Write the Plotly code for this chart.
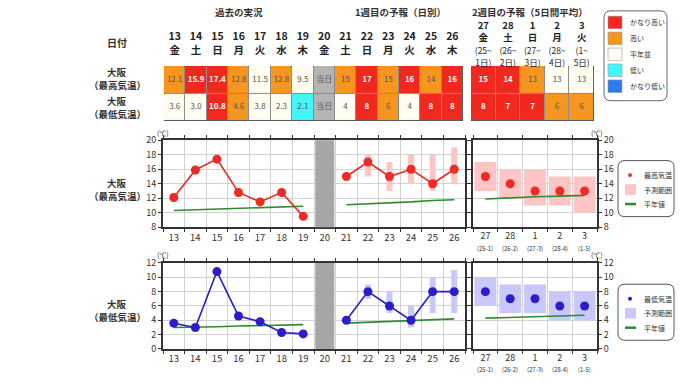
import plotly.graph_objects as go

W, H = 680, 382
def px(x): return x / W
def py(y): return 1 - y / H

FONT = "Noto Sans CJK JP"
TXT = "#333333"

# ---------------- data ----------------
days_obs = ["13", "14", "15", "16", "17", "18", "19"]
wd_obs = ["金", "土", "日", "月", "火", "水", "木"]
day_today = "20"
wd_today = "金"
days_w1 = ["21", "22", "23", "24", "25", "26"]
wd_w1 = ["土", "日", "月", "火", "水", "木"]
days_w2 = ["27", "28", "1", "2", "3"]
wd_w2 = ["金", "土", "日", "月", "火"]
w2_from = ["25", "26", "27", "28", "1"]
w2_to = ["1", "2", "3", "4", "5"]

max_obs = [12.1, 15.9, 17.4, 12.8, 11.5, 12.8, 9.5]
min_obs = [3.6, 3.0, 10.8, 4.6, 3.8, 2.3, 2.1]

max_w1 = [15, 17, 15, 16, 14, 16]
max_w1_lo = [None, 15, 13, 14, 13, 14]
max_w1_hi = [None, 18, 17, 18, 18, 19]
min_w1 = [4, 8, 6, 4, 8, 8]
min_w1_lo = [None, 7, 5, 3, 5, 5]
min_w1_hi = [None, 9, 8, 6, 10, 11]

max_w2 = [15, 14, 13, 13, 13]
max_w2_lo = [13, 12, 11, 11, 10]
max_w2_hi = [17, 16, 16, 15, 15]
min_w2 = [8, 7, 7, 6, 6]
min_w2_lo = [6, 5, 5, 4, 4]
min_w2_hi = [10, 9, 9, 8, 8]

max_norm_obs = [10.3, 10.4, 10.5, 10.6, 10.7, 10.8, 10.9]
max_norm_w1 = [11.1, 11.2, 11.4, 11.5, 11.7, 11.8]
max_norm_w2 = [11.9, 12.1, 12.2, 12.3, 12.4]
min_norm_obs = [3.0, 3.0, 3.1, 3.2, 3.3, 3.3, 3.4]
min_norm_w1 = [3.6, 3.7, 3.8, 3.9, 4.1, 4.2]
min_norm_w2 = [4.3, 4.4, 4.5, 4.6, 4.7]

classes = ["かなり高い", "高い", "平年並", "低い", "かなり低い"]
class_colors = ["#F0281E", "#F7961E", "#FFFDF0", "#40F6F6", "#2E7BF0"]
today_label = "当日"
today_color = "#B4B4B4"

cls_max_obs = ["高い", "かなり高い", "かなり高い", "高い", "平年並", "高い", "平年並"]
cls_min_obs = ["平年並", "平年並", "かなり高い", "高い", "平年並", "平年並", "低い"]
cls_max_w1 = ["高い", "かなり高い", "高い", "かなり高い", "高い", "かなり高い"]
cls_min_w1 = ["平年並", "かなり高い", "高い", "平年並", "かなり高い", "かなり高い"]
cls_max_w2 = ["かなり高い", "かなり高い", "高い", "平年並", "平年並"]
cls_min_w2 = ["かなり高い", "かなり高い", "かなり高い", "高い", "高い"]

# ---------------- styles ----------------
RED = "#EE2A24"
PINK = "#FFC4C4"
BLUE = "#2A1EC8"
LAV = "#C8C8FA"
GREEN = "#2E8B2E"
BAND = "#A6A6A6"

days_all = days_obs + [day_today] + days_w1
wd_all = wd_obs + [wd_today] + wd_w1

fig = go.Figure()

def rng(lo, hi):
    base = list(lo)
    ht = [(h - l) if (h is not None and l is not None) else None for l, h in zip(lo, hi)]
    return base, ht

def add_chart(xa, ya, xb, yb, obs, fc1, lo1, hi1, fc2, lo2, hi2, n0, n1, n2, col, fill):
    b, h = rng(lo1, hi1)
    fig.add_trace(go.Bar(x=days_w1, y=h, base=b, width=0.28, marker=dict(color=fill, line=dict(width=0)),
                         xaxis=xa, yaxis=ya, showlegend=False, hoverinfo="skip"))
    b, h = rng(lo2, hi2)
    fig.add_trace(go.Bar(x=days_w2, y=h, base=b, width=0.88, marker=dict(color=fill, line=dict(width=0)),
                         xaxis=xb, yaxis=yb, showlegend=False, hoverinfo="skip"))
    for xs, ys, xr, yr in [(days_obs, n0, xa, ya), (days_w1, n1, xa, ya), (days_w2, n2, xb, yb)]:
        fig.add_trace(go.Scatter(x=xs, y=ys, mode="lines", line=dict(color=GREEN, width=1.6),
                                 xaxis=xr, yaxis=yr, showlegend=False, hoverinfo="skip"))
    for xs, ys in [(days_obs, obs), (days_w1, fc1)]:
        fig.add_trace(go.Scatter(x=xs, y=ys, mode="lines+markers", line=dict(color=col, width=1.6),
                                 marker=dict(color=col, size=9), xaxis=xa, yaxis=ya, showlegend=False))
    fig.add_trace(go.Scatter(x=days_w2, y=fc2, mode="markers", marker=dict(color=col, size=9),
                             xaxis=xb, yaxis=yb, showlegend=False))

add_chart("x", "y", "x2", "y2", max_obs, max_w1, max_w1_lo, max_w1_hi, max_w2, max_w2_lo, max_w2_hi,
          max_norm_obs, max_norm_w1, max_norm_w2, RED, PINK)
add_chart("x3", "y3", "x4", "y4", min_obs, min_w1, min_w1_lo, min_w1_hi, min_w2, min_w2_lo, min_w2_hi,
          min_norm_obs, min_norm_w1, min_norm_w2, BLUE, LAV)

# ---------------- tables ----------------
all_colors = class_colors + [today_color]
ncls = len(all_colors)
cscale = []
for i, c in enumerate(all_colors):
    cscale.append([i / ncls, c])
    cscale.append([(i + 1) / ncls, c])

def code(c):
    return classes.index(c) if c in classes else len(classes)

def fmt_obs(v): return f"{v:.1f}"
def fmt_fc(v): return f"{v:d}"

row_max_cls = cls_max_obs + [today_label] + cls_max_w1
row_min_cls = cls_min_obs + [today_label] + cls_min_w1
row_max_txt = [fmt_obs(v) for v in max_obs] + [today_label] + [fmt_fc(v) for v in max_w1]
row_min_txt = [fmt_obs(v) for v in min_obs] + [today_label] + [fmt_fc(v) for v in min_w1]

def add_table(xr, yr, cats, cls_max, cls_min, txt_max, txt_min):
    fig.add_trace(go.Heatmap(x=cats, y=[0, 1], z=[[code(c) for c in cls_min], [code(c) for c in cls_max]],
                             colorscale=cscale, zmin=-0.5, zmax=ncls - 0.5, showscale=False,
                             xgap=1, ygap=1, xaxis=xr, yaxis=yr, hoverinfo="skip"))
    texts, colors, xs, ys = [], [], [], []
    for row, cl, tx in [(1, cls_max, txt_max), (0, cls_min, txt_min)]:
        for c, cat, t in zip(cl, cats, tx):
            strong = (c == classes[0])
            texts.append(f"<b>{t}</b>" if strong else t)
            colors.append("#FFFFFF" if strong else "#555555")
            xs.append(cat)
            ys.append(row)
    fig.add_trace(go.Scatter(x=xs, y=ys, mode="text", text=texts, textposition="middle center",
                             textfont=dict(size=8, color=colors, family=FONT),
                             xaxis=xr, yaxis=yr, showlegend=False, hoverinfo="skip"))

add_table("x5", "y5", days_all, row_max_cls, row_min_cls, row_max_txt, row_min_txt)
add_table("x6", "y6", days_w2, cls_max_w2, cls_min_w2,
          [fmt_fc(v) for v in max_w2], [fmt_fc(v) for v in min_w2])

shapes = []
for xr, yr, n in [("x5", "y5", len(days_all)), ("x6", "y6", len(days_w2))]:
    shapes.append(dict(type="rect", xref=xr, yref=yr, x0=-0.5, x1=n - 0.5, y0=-0.5, y1=1.5,
                       fillcolor="#8C8C8C", line=dict(color="#333333", width=1), layer="below"))

# gray band for today
it = days_all.index(day_today)
for xr, yr in [("x", "y"), ("x3", "y3")]:
    shapes.append(dict(type="rect", xref=xr, yref=yr + " domain", x0=it - 0.44, x1=it + 0.44, y0=0, y1=1,
                       fillcolor=BAND, line=dict(width=0), layer="above"))

# ---------------- axes ----------------
AX = "#333333"
GRID = "#D2D2D2"

def xcat(dom, anchor, cats, ttext, fsize=9.5, standoff=0):
    return dict(domain=dom, anchor=anchor, type="category", categoryorder="array", categoryarray=cats,
                range=[-0.5, len(cats) - 0.5], tickson="boundaries", tickmode="array", tickvals=cats,
                ticktext=ttext, tickangle=0, showgrid=True, gridcolor=GRID, gridwidth=1, showline=True,
                linecolor=AX, linewidth=2, mirror="ticks", ticks="outside", ticklen=3, tickcolor=AX,
                tickfont=dict(size=fsize, color=TXT, family=FONT), fixedrange=True, zeroline=False,
                ticklabelstandoff=standoff)

def ylin(dom, anchor, r, side):
    return dict(domain=dom, anchor=anchor, range=r, dtick=2, side=side, showgrid=True, gridcolor=GRID,
                showline=True, linecolor=AX, linewidth=2, mirror="ticks", ticks="outside", ticklen=3,
                tickcolor=AX, tickfont=dict(size=9, color=TXT, family=FONT), fixedrange=True, zeroline=False)

left_dom = [px(163), px(465)]
right_dom = [px(473), px(597)]
max_dom = [py(228), py(138)]
min_dom = [py(354), py(265)]

layout_axes = dict(
    xaxis=xcat(left_dom, "y", days_all, days_all),
    yaxis=ylin(max_dom, "x", [8, 20], "left"),
    xaxis2=xcat(right_dom, "y2", days_w2, days_w2, 9, -1),
    yaxis2=ylin(max_dom, "x2", [8, 20], "right"),
    xaxis3=xcat(left_dom, "y3", days_all, days_all),
    yaxis3=ylin(min_dom, "x3", [0, 12], "left"),
    xaxis4=xcat(right_dom, "y4", days_w2, days_w2, 9, -1),
    yaxis4=ylin(min_dom, "x4", [0, 12], "right"),
    xaxis5=dict(domain=[px(164), px(463)], anchor="y5", type="category", categoryorder="array",
                categoryarray=days_all, range=[-0.5, len(days_all) - 0.5], side="top", tickmode="array",
                tickvals=days_all, ticktext=[f"<b>{d}</b><br><b>{w}</b>" for d, w in zip(days_all, wd_all)],
                tickangle=0, tickfont=dict(size=10.5, color="#222222", family=FONT), showgrid=False,
                showline=False, ticks="", zeroline=False, fixedrange=True, ticklabelstandoff=9),
    yaxis5=dict(domain=[py(118), py(61)], anchor="x5", range=[-0.5, 1.5], visible=False, fixedrange=True),
    xaxis6=dict(domain=[px(471), px(594)], anchor="y6", type="category", categoryorder="array",
                categoryarray=days_w2, range=[-0.5, len(days_w2) - 0.5], side="top", tickmode="array",
                tickvals=days_w2,
                ticktext=[f"<b>{d}</b><br><b>{w}</b><br><span style='font-size:8.5px'>({a}~</span><br>"
                          f"<span style='font-size:8.5px'>{b}日)</span>"
                          for d, w, a, b in zip(days_w2, wd_w2, w2_from, w2_to)],
                tickangle=0, tickfont=dict(size=9.5, color="#222222", family=FONT), showgrid=False,
                showline=False, ticks="", zeroline=False, fixedrange=True, ticklabelstandoff=-3),
    yaxis6=dict(domain=[py(118), py(61)], anchor="x6", range=[-0.5, 1.5], visible=False, fixedrange=True),
)

# ---------------- annotations ----------------
ann = []
def A(text, x, y, size=10, xanchor="center", color=TXT, yanchor="middle", pad=1):
    ann.append(dict(text=text, x=px(x), y=py(y), xref="paper", yref="paper", showarrow=False,
                    xanchor=xanchor, yanchor=yanchor, borderpad=pad,
                    font=dict(size=size, color=color, family=FONT)))

A("<b>過去の実況</b>", 239, 5, 9.5)
A("<b>1週目の予報（日別）</b>", 400, 5, 9.5)
A("<b>2週目の予報（5日間平均）</b>", 530, 5, 9.5)
A("<b>日付</b>", 117, 37, 10)
for y_top, kind in [(67, "最高気温"), (97, "最低気温"), (182, "最高気温"), (307, "最低気温")]:
    A("<b>大阪</b>", 117, y_top, 9.5, pad=0)
    A(f"<b>（{kind}）</b>", 117, y_top + 13.5, 9.5, pad=0)
A("(℃)", 163, 130, 7)
A("(℃)", 597, 130, 7)
A("(℃)", 163, 257, 7)
A("(℃)", 597, 257, 7)

# period sub-labels under week-2 chart ticks (category index positions on the axis)
for xr, ylab in [("x2", 250), ("x4", 375)]:
    for i, (a, b) in enumerate(zip(w2_from, w2_to)):
        ann.append(dict(text=f"({a}-{b})", x=i, xref=xr, y=py(ylab), yref="paper", showarrow=False,
                        xanchor="center", yanchor="middle", borderpad=0,
                        font=dict(size=6, color=TXT, family=FONT)))

def rrect(x0, y0, x1, y1, r):
    X = lambda v: px(v)
    Y = lambda v: py(v)
    return (f"M {X(x0 + r)},{Y(y0)} L {X(x1 - r)},{Y(y0)} Q {X(x1)},{Y(y0)} {X(x1)},{Y(y0 + r)} "
            f"L {X(x1)},{Y(y1 - r)} Q {X(x1)},{Y(y1)} {X(x1 - r)},{Y(y1)} L {X(x0 + r)},{Y(y1)} "
            f"Q {X(x0)},{Y(y1)} {X(x0)},{Y(y1 - r)} L {X(x0)},{Y(y0 + r)} Q {X(x0)},{Y(y0)} {X(x0 + r)},{Y(y0)} Z")

# class legend
shapes.append(dict(type="path", xref="paper", yref="paper", path=rrect(604, 4, 667, 97, 7),
                   line=dict(color="#666666", width=1), fillcolor="white", layer="below"))
for i, (lab, c) in enumerate(zip(classes, class_colors)):
    yc = 16 + i * 16.5
    shapes.append(dict(type="rect", xref="paper", yref="paper", x0=px(608), x1=px(622),
                       y0=py(yc + 6.5), y1=py(yc - 6.5), fillcolor=c, line=dict(color="#999999", width=0.6)))
    A(lab, 628, yc, 7, xanchor="left")

# chart legends
def chart_legend(top, name, col, fill):
    shapes.append(dict(type="path", xref="paper", yref="paper", path=rrect(618, top, 674, top + 58, 7),
                       line=dict(color="#555555", width=1), fillcolor="white", layer="below"))
    y1, y2, y3 = top + 15, top + 30, top + 45
    shapes.append(dict(type="circle", xref="paper", yref="paper", x0=px(628), x1=px(632),
                       y0=py(y1 + 2), y1=py(y1 - 2), fillcolor=col, line=dict(width=0)))
    shapes.append(dict(type="rect", xref="paper", yref="paper", x0=px(625), x1=px(636),
                       y0=py(y2 + 5.5), y1=py(y2 - 5.5), fillcolor=fill, line=dict(width=0)))
    shapes.append(dict(type="line", xref="paper", yref="paper", x0=px(625), x1=px(636),
                       y0=py(y3), y1=py(y3), line=dict(color=GREEN, width=2.5)))
    A(name, 642, y1, 7, xanchor="left")
    A("予測範囲", 642, y2, 7, xanchor="left")
    A("平年値", 642, y3, 7, xanchor="left")

chart_legend(159, "最高気温", RED, PINK)
chart_legend(287, "最低気温", BLUE, LAV)

fig.update_layout(
    width=W, height=H, autosize=False, margin=dict(l=0, r=0, t=0, b=0),
    paper_bgcolor="white", plot_bgcolor="white", barmode="overlay", showlegend=False,
    font=dict(family=FONT, color=TXT), shapes=shapes, annotations=ann, hovermode=False,
    **layout_axes,
)

fig.write_html("out.html", config={"displayModeBar": False},
               post_script="document.body.style.margin='0px';")
